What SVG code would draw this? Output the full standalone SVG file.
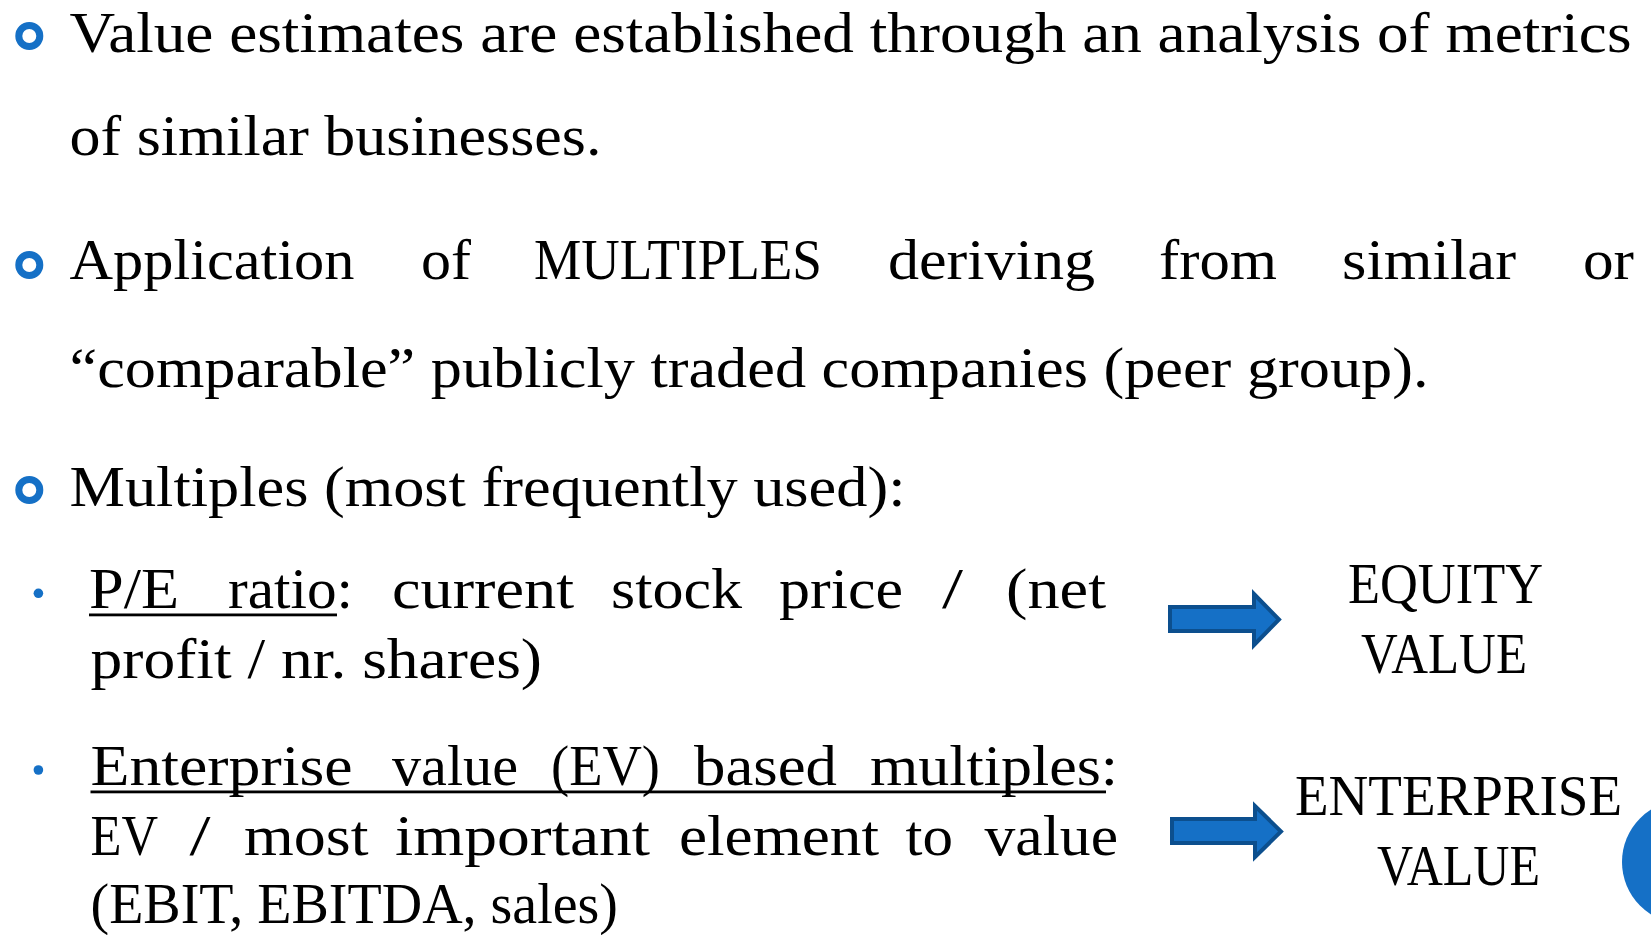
<svg xmlns="http://www.w3.org/2000/svg" width="1651" height="935" viewBox="0 0 1651 935">
<style>
.t{font-family:"Liberation Serif","Times New Roman",serif;font-size:58px;fill:#000;}
.ring{fill:none;stroke:#1570C6;stroke-width:7;}
.dot{fill:#1570C6;}
.ul{fill:#000;}
.arr{fill:#1570C6;stroke:#0C4F8E;stroke-width:4;stroke-linejoin:miter;}
</style>
<rect width="1651" height="935" fill="#fff"/>
<g id="bullet1">
<circle class="ring" cx="29.3" cy="36" r="10.5"/>
<text class="t" x="69.5" y="51.7" textLength="1562" lengthAdjust="spacingAndGlyphs">Value estimates are established through an analysis of metrics</text>
<text class="t" x="69.5" y="155" textLength="532" lengthAdjust="spacingAndGlyphs">of similar businesses.</text>
</g>
<g id="bullet2">
<circle class="ring" cx="29.3" cy="265" r="10.5"/>
<text class="t" x="69.5" y="279.3" textLength="285" lengthAdjust="spacingAndGlyphs">Application</text>
<text class="t" x="421" y="279.3" textLength="50" lengthAdjust="spacingAndGlyphs">of</text>
<text class="t" x="534" y="279.3" textLength="288" lengthAdjust="spacingAndGlyphs">MULTIPLES</text>
<text class="t" x="888" y="279.3" textLength="207" lengthAdjust="spacingAndGlyphs">deriving</text>
<text class="t" x="1159" y="279.3" textLength="118" lengthAdjust="spacingAndGlyphs">from</text>
<text class="t" x="1342" y="279.3" textLength="174" lengthAdjust="spacingAndGlyphs">similar</text>
<text class="t" x="1583" y="279.3" textLength="51" lengthAdjust="spacingAndGlyphs">or</text>
<text class="t" x="69.5" y="386.7" textLength="1359" lengthAdjust="spacingAndGlyphs">“comparable” publicly traded companies (peer group).</text>
</g>
<g id="bullet3">
<circle class="ring" cx="29.3" cy="490" r="10.5"/>
<text class="t" x="69.5" y="505.5" textLength="836" lengthAdjust="spacingAndGlyphs">Multiples (most frequently used):</text>
</g>
<g id="pe-ratio">
<circle class="dot" cx="38.4" cy="593.3" r="4.8"/>
<text class="t" x="89" y="608" textLength="90" lengthAdjust="spacingAndGlyphs">P/E</text>
<text class="t" x="228" y="608" textLength="125" lengthAdjust="spacingAndGlyphs">ratio:</text>
<text class="t" x="392" y="608" textLength="182" lengthAdjust="spacingAndGlyphs">current</text>
<text class="t" x="611" y="608" textLength="131" lengthAdjust="spacingAndGlyphs">stock</text>
<text class="t" x="779" y="608" textLength="124" lengthAdjust="spacingAndGlyphs">price</text>
<text class="t" x="942" y="608" textLength="21" lengthAdjust="spacingAndGlyphs">/</text>
<text class="t" x="1006" y="608" textLength="100" lengthAdjust="spacingAndGlyphs">(net</text>
<rect class="ul" x="89" y="613.5" width="248" height="2.8"/>
<text class="t" x="90.5" y="678" textLength="451.5" lengthAdjust="spacingAndGlyphs">profit / nr. shares)</text>
</g>
<g id="ev-multiples">
<circle class="dot" cx="38.4" cy="770" r="4.8"/>
<text class="t" x="90.5" y="785" textLength="262" lengthAdjust="spacingAndGlyphs">Enterprise</text>
<text class="t" x="392" y="785" textLength="126" lengthAdjust="spacingAndGlyphs">value</text>
<text class="t" x="551" y="785" textLength="109" lengthAdjust="spacingAndGlyphs">(EV)</text>
<text class="t" x="694" y="785" textLength="143" lengthAdjust="spacingAndGlyphs">based</text>
<text class="t" x="870" y="785" textLength="248" lengthAdjust="spacingAndGlyphs">multiples:</text>
<rect class="ul" x="90.5" y="790.5" width="1015.5" height="2.8"/>
<text class="t" x="90.5" y="855" textLength="67.5" lengthAdjust="spacingAndGlyphs">EV</text>
<text class="t" x="189.5" y="855" textLength="21" lengthAdjust="spacingAndGlyphs">/</text>
<text class="t" x="244" y="855" textLength="124.5" lengthAdjust="spacingAndGlyphs">most</text>
<text class="t" x="395" y="855" textLength="255" lengthAdjust="spacingAndGlyphs">important</text>
<text class="t" x="679" y="855" textLength="200" lengthAdjust="spacingAndGlyphs">element</text>
<text class="t" x="905.5" y="855" textLength="47.5" lengthAdjust="spacingAndGlyphs">to</text>
<text class="t" x="984.5" y="855" textLength="133.5" lengthAdjust="spacingAndGlyphs">value</text>
<text class="t" x="90.5" y="923" textLength="527.5" lengthAdjust="spacingAndGlyphs">(EBIT, EBITDA, sales)</text>
</g>
<g id="equity-value">
<text class="t" x="1348" y="603" textLength="195" lengthAdjust="spacingAndGlyphs">EQUITY</text>
<text class="t" x="1361" y="673" textLength="166" lengthAdjust="spacingAndGlyphs">VALUE</text>
</g>
<g id="enterprise-value">
<text class="t" x="1295" y="815" textLength="327" lengthAdjust="spacingAndGlyphs">ENTERPRISE</text>
<text class="t" x="1377" y="885" textLength="163" lengthAdjust="spacingAndGlyphs">VALUE</text>
</g>
<g id="corner-circle">
<circle cx="1684" cy="862" r="62" fill="#1570C6"/>
</g>
<g id="connectors">
<polygon class="arr" points="1170,607 1254,607 1254,594 1279,619.5 1254,645 1254,631 1170,631"/>
<polygon class="arr" points="1172,819 1255,819 1255,806 1281,831.5 1255,857 1255,843 1172,843"/>
</g>
</svg>
